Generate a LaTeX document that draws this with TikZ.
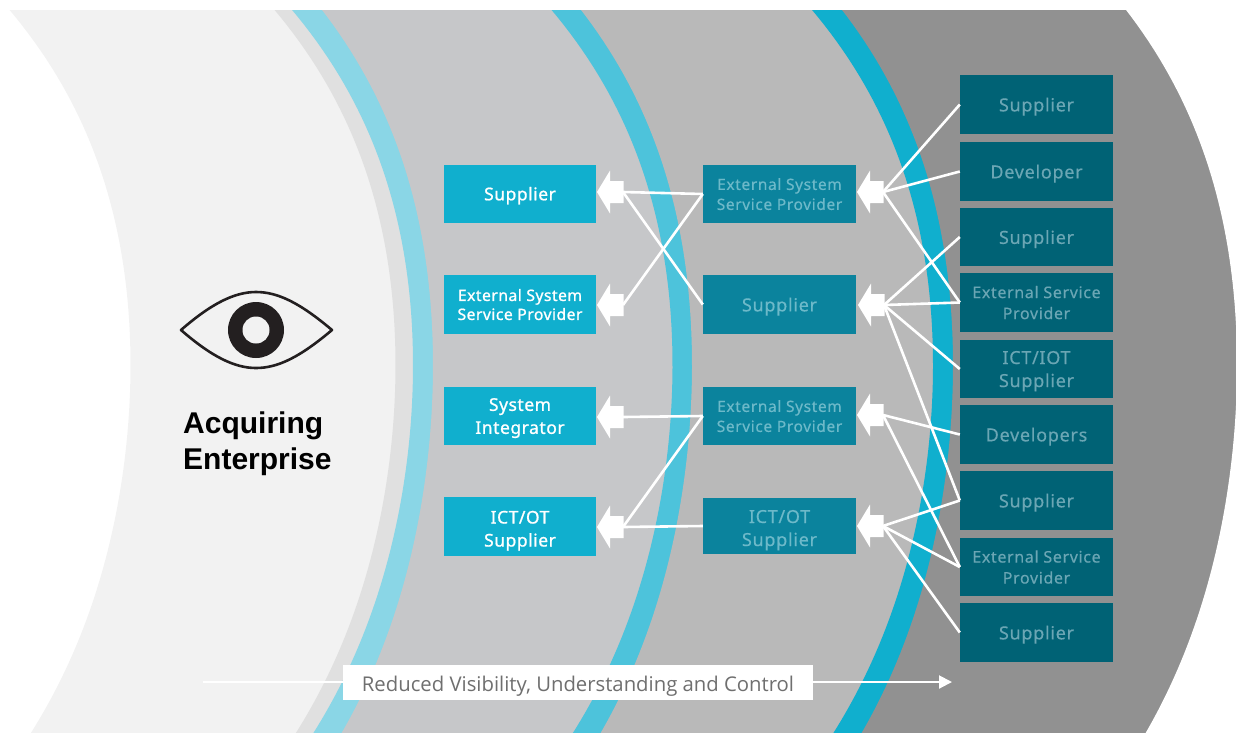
\documentclass[tikz,border=0pt]{standalone}
\usepackage{fontspec}
\usetikzlibrary{arrows.meta}
\setmainfont{Noto Sans}
\newfontfamily\headfont{Liberation Sans}
\newfontfamily\spaced[LetterSpace=4,FakeBold=0.4]{Noto Sans}
\newfontfamily\lfont[LetterSpace=3,FakeBold=1]{Noto Sans}
\newfontfamily\labelfont{Open Sans}
\definecolor{cA}{HTML}{F2F2F2}
\definecolor{cB}{HTML}{E0E0E0}
\definecolor{cC}{HTML}{8AD6E6}
\definecolor{cD}{HTML}{C6C7C9}
\definecolor{cE}{HTML}{4DC3DB}
\definecolor{cF}{HTML}{B9B9B9}
\definecolor{cG}{HTML}{10AFCE}
\definecolor{cH}{HTML}{919191}
\definecolor{boxL}{HTML}{10AFCE}
\definecolor{boxM}{HTML}{0B839D}
\definecolor{boxR}{HTML}{006275}
\definecolor{txtM}{HTML}{6DB9C9}
\definecolor{txtR}{HTML}{6BA6B4}
\definecolor{eyeK}{HTML}{231F20}
\definecolor{lblK}{HTML}{6F6F6F}
\newcommand{\dn}{\rule{0pt}{17pt}}
\tikzset{
  declare function={sagS(\v)=6.2*\v*\v-0.30*\v*\v*\v+0.122*\v*\v*\v*\v;},
  box/.style={inner sep=0pt,align=center,text depth=0pt},
  lbox/.style={box,fill=boxL,text=white,minimum width=152pt,font=\lfont\fontsize{17.5}{23}\selectfont},
  lboxs/.style={lbox,font=\lfont\fontsize{15.7}{19}\selectfont},
  mbox/.style={box,fill=boxM,text=txtM,minimum width=153pt,font=\spaced\fontsize{18}{23}\selectfont},
  mboxs/.style={mbox,font=\spaced\fontsize{15.5}{20}\selectfont},
  rbox/.style={box,fill=boxR,text=txtR,minimum width=153pt,font=\spaced\fontsize{18}{23}\selectfont},
  rboxs/.style={rbox,font=\spaced\fontsize{16}{21}\selectfont},
  link/.style={draw=white,line width=2.6pt},
  blockarrow/.style={fill=white},
}
% #1 colour, #2 apex x, #3 factor
\newcommand{\bandfill}[3]{%
  \fill[#1] plot[domain=0:745,samples=90,variable=\t] ({#2-#3*sagS((\t-365)/100)},\t) -- (1300,745) -- (1300,0) -- cycle;}
\newcommand{\blockarr}[3]{%
  \begin{scope}[shift={(#2,#3)}]
    \path[blockarrow] (0,0)--(13,-21.5)--(13,-11)--(26.5,-11)--(26.5,11)--(13,11)--(13,21.5)--cycle;
    \coordinate (#1) at (26,0);
  \end{scope}}
\begin{document}
\begin{tikzpicture}[x=1pt,y=-1pt]
\useasboundingbox (0,0) rectangle (1236,732);
\begin{scope}
\clip (0,10) rectangle (1236,734);
\bandfill{cA}{130.5}{1.09}
\bandfill{cB}{395.5}{1.09}
\bandfill{cC}{413}{1.09}
\bandfill{cD}{433}{1}
\bandfill{cE}{672.5}{1.09}
\bandfill{cF}{692}{1}
\bandfill{cG}{933}{1.09}
\bandfill{cH}{953}{1}
\bandfill{white}{1237}{1}
\end{scope}

% eye
\draw[eyeK,line width=2.6pt,line join=round] (181,330) .. controls (212,303) and (235,292) .. (256,292) .. controls (278,292) and (300,303) .. (332,330) .. controls (300,357) and (278,368) .. (256,368) .. controls (235,368) and (212,357) .. (181,330) -- cycle;
\fill[eyeK] (256,330) circle (28);
\fill[cA] (256,330) circle (13.5);
\node[anchor=north west,inner sep=0pt,align=left,font=\headfont\bfseries\fontsize{30}{35.5}\selectfont] (acq) at (183,412) {Acquiring\\Enterprise};

% boxes
\node[lbox,minimum height=58pt] (l1) at (520,194) {\raisebox{0.8pt}{Supplier}};
\node[lboxs,minimum height=59pt] (l2) at (520,304.5) {External System\\Service Provider};
\node[lbox,minimum height=58pt] (l3) at (520,416) {System\\Integrator};
\node[lbox,minimum height=59pt] (l4) at (520,526.5) {\dn ICT/OT\\Supplier};

\node[mboxs,minimum height=58pt] (m1) at (779.5,194) {External System\\Service Provider};
\node[mbox,minimum height=59pt] (m2) at (779.5,304.5) {Supplier};
\node[mboxs,minimum height=58pt] (m3) at (779.5,416) {External System\\Service Provider};
\node[mbox,minimum height=56pt] (m4) at (779.5,526) {\dn ICT/OT\\Supplier};

\node[rbox,minimum height=59pt] (r1) at (1036.5,104.5) {Supplier};
\node[rbox,minimum height=59pt] (r2) at (1036.5,171.5) {Developer};
\node[rbox,minimum height=58pt] (r3) at (1036.5,237) {Supplier};
\node[rboxs,minimum height=59pt] (r4) at (1036.5,302.5) {External Service\\Provider};
\node[rbox,minimum height=58pt] (r5) at (1036.5,369) {ICT/IOT\\Supplier};
\node[rbox,minimum height=59pt] (r6) at (1036.5,434.5) {Developers};
\node[rbox,minimum height=59pt] (r7) at (1036.5,500.5) {Supplier};
\node[rboxs,minimum height=58pt] (r8) at (1036.5,567) {External Service\\Provider};
\node[rbox,minimum height=59pt] (r9) at (1036.5,632.5) {Supplier};

% block arrows
\blockarr{a1}{597}{192}
\blockarr{a2}{597}{305}
\blockarr{a3}{597}{417}
\blockarr{a4}{597}{527}
\blockarr{b1}{857}{192}
\blockarr{b2}{858}{305}
\blockarr{b3}{857}{415}
\blockarr{b4}{857}{526}

% connectors
\draw[link] (m1.west) -- (a1);
\draw[link] (m1.west) -- (a2);
\draw[link] (m2.west) -- (a1);
\draw[link] (m3.west) -- (a3);
\draw[link] (m3.west) -- (a4);
\draw[link] (m4.west) -- (a4);
\draw[link] (r1.west) -- (b1);
\draw[link] (r2.west) -- (b1);
\draw[link] (r4.west) -- (b1);
\draw[link] (r3.west) -- (b2);
\draw[link] (r4.west) -- (b2);
\draw[link] (r5.west) -- (b2);
\draw[link] (r7.west) -- (b2);
\draw[link] (r6.west) -- (b3);
\draw[link] (r8.west) -- (b3);
\draw[link] (r7.west) -- (b4);
\draw[link] (r8.west) -- (b4);
\draw[link] (r9.west) -- (b4);

% bottom arrow
\coordinate (vs) at (203,682);
\coordinate (ve) at (952,682);
\draw[white,line width=2pt,-{Triangle[width=13pt,length=13pt]}] (vs) -- (ve);
\node[fill=white,text=lblK,inner sep=0pt,text depth=0pt,text height=15pt,minimum width=470pt,minimum height=35pt,font=\labelfont\fontsize{20.3}{24}\selectfont] (lbl) at (578,682.5) {\raisebox{-1pt}{Reduced Visibility, Understanding and Control}};
\end{tikzpicture}
\end{document}
